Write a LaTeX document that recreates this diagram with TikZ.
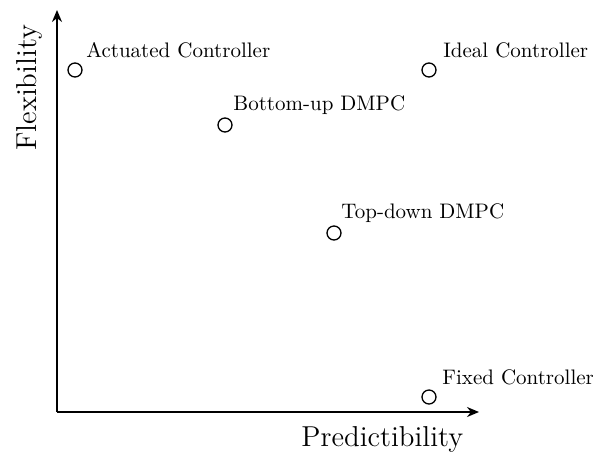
\documentclass[tikz,border=0pt]{standalone}
\usetikzlibrary{arrows.meta}
\begin{document}
\begin{tikzpicture}[x=0.5pt,y=-0.5pt,
  axis/.style={line width=0.9pt,-{Stealth[length=6pt,width=5pt]}},
  ctrl/.style={circle,draw,line width=0.65pt,minimum size=7pt,inner sep=0pt},
  ctrllabel/.style={anchor=base west,inner sep=0pt,font=\fontsize{10.5}{12}\selectfont},
  axislabel/.style={inner sep=0pt,font=\Large}]
\useasboundingbox (0,0) rectangle (593,456);
% axes
\coordinate (o) at (57,412);
\coordinate (ytip) at (57,10);
\coordinate (xtip) at (479,412);
\draw[axis] (o) -- (ytip);
\draw[axis] (o) -- (xtip);
\node[axislabel,anchor=base west,rotate=90] (ylab) at (36,151) {Flexibility};
\node[axislabel,anchor=base west] (xlab) at (301,446) {Predictibility};
% controllers
\node[ctrl] (act) at (75,70) {};
\node[ctrllabel] (actl) at (86,57) {Actuated Controller};
\node[ctrl] (ideal) at (429,70) {};
\node[ctrllabel] (ideall) at (443,57) {Ideal Controller};
\node[ctrl] (bu) at (225,125) {};
\node[ctrllabel] (bul) at (233,110) {Bottom-up DMPC};
\node[ctrl] (td) at (334,233) {};
\node[ctrllabel] (tdl) at (341,218) {Top-down DMPC};
\node[ctrl] (fixed) at (429,397) {};
\node[ctrllabel] (fixedl) at (442,384) {Fixed Controller};
\end{tikzpicture}
\end{document}
